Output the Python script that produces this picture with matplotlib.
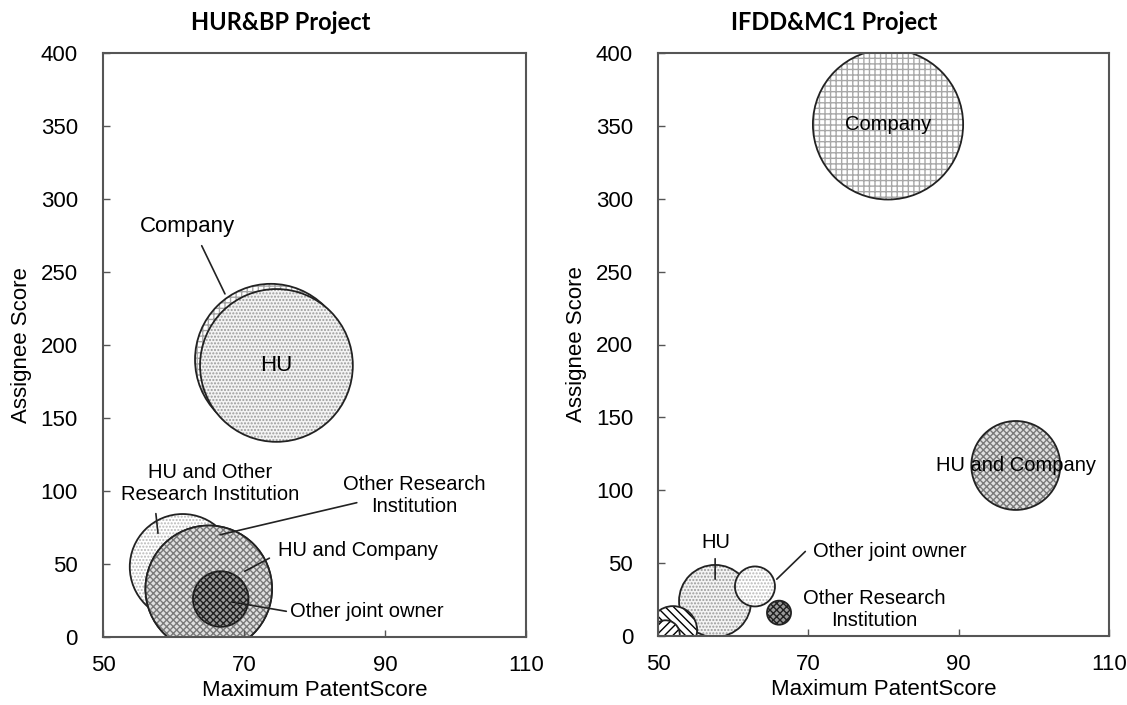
import matplotlib
matplotlib.use("Agg")
import matplotlib.pyplot as plt

plt.rcParams['font.family'] = ['Liberation Sans', 'DejaVu Sans']
plt.rcParams['hatch.linewidth'] = 1.0

# --- DATA ---
# HUR&BP project
left_names = ["Company", "HU", "HU and Other\nResearch Institution",
              "Other Research\nInstitution", "HU and Company", "Other joint owner"]
left_x = [73.8, 74.6, 61.3, 65.0, 65.0, 66.7]
left_y = [190, 186, 48, 33, 33, 26]
left_size = [11900, 12100, 5800, 8300, 8300, 1600]

# IFDD&MC1 project
right_names = ["Company", "HU and Company", "HU", "Other joint owner",
               "Other Research\nInstitution", "", ""]
right_x = [80.6, 97.6, 57.6, 62.9, 66.1, 52.0, 51.0]
right_y = [351, 117, 24, 34, 16, 4, 1]
right_size = [11700, 4100, 2700, 830, 300, 1200, 420]

# style per bubble: (facecolor, hatch, hatch colour)
light_dot = ("#f4f4f4", ".....", "#9a9a9a")
pale_dot = ("#ffffff", ".....", "#b8b8b8")
grid = ("#ffffff", "+++", "#a8a8a8")
check = ("#e0e0e0", "xxxxx", "#7a7a7a")
dark = ("#9a9a9a", "xxxxx", "#202020")
stripe_a = ("#ffffff", "\\\\\\\\", "#000000")
stripe_b = ("#ffffff", "////", "#000000")

left_style = [grid, light_dot, pale_dot, check, check, dark]
right_style = [grid, check, light_dot, pale_dot, dark, stripe_a, stripe_b]


def draw_bubbles(ax, xs, ys, sizes, styles):
    for x, y, s, (fc, hatch, hc) in zip(xs, ys, sizes, styles):
        ax.scatter([x], [y], s=s, facecolors=fc, edgecolors=hc,
                   linewidths=0, hatch=hatch)
        ax.scatter([x], [y], s=s, facecolors="none", edgecolors="#222222",
                   linewidths=1.3)


def style_axes(ax, title, title_x):
    ax.set_xlim(50, 110)
    ax.set_ylim(0, 400)
    ax.set_xticks([50, 70, 90, 110])
    ax.set_yticks(range(0, 401, 50))
    ax.tick_params(direction="in", length=5, width=1, color="#555555",
                   labelsize=16)
    ax.tick_params(axis="x", pad=13)
    ax.tick_params(axis="y", pad=18)
    for sp in ax.spines.values():
        sp.set_color("#555555")
        sp.set_linewidth(1.5)
    ax.set_xlabel("Maximum PatentScore", fontsize=16, labelpad=3)
    ax.set_ylabel("Assignee Score", fontsize=16, labelpad=6)
    ax.text(title_x, 1.052, title, transform=ax.transAxes, ha="center",
            va="center", fontsize=17, fontweight="bold",
            family=["Lato", "DejaVu Sans"])


def leader(ax, start, end):
    ax.annotate("", xy=end, xytext=start,
                arrowprops=dict(arrowstyle="-", color="#222222", lw=1.2,
                                shrinkA=0, shrinkB=0))


fig = plt.figure(figsize=(11.27, 7.05), dpi=100)
ax1 = fig.add_axes([103 / 1127, 68 / 705, 423 / 1127, 584 / 705])
ax2 = fig.add_axes([658 / 1127, 69 / 705, 451 / 1127, 583 / 705])

# --- LEFT PANEL ---
draw_bubbles(ax1, left_x, left_y, left_size, left_style)
style_axes(ax1, "HUR&BP Project", 0.42)
fs = 14.5
ax1.text(left_x[1], left_y[1], left_names[1], ha="center", va="center", fontsize=16)
ax1.text(62.0, 281, left_names[0], ha="center", va="center", fontsize=16)
leader(ax1, (64.0, 268), (67.3, 235))
ax1.text(65.2, 105, left_names[2], ha="center", va="center", fontsize=fs)
leader(ax1, (57.5, 84.5), (57.8, 71))
ax1.text(94.2, 97, left_names[3], ha="center", va="center", fontsize=fs)
leader(ax1, (86.0, 92), (66.6, 70))
ax1.text(74.8, 59.5, left_names[4], ha="left", va="center", fontsize=fs)
leader(ax1, (73.6, 54), (70.1, 45))
ax1.text(76.5, 17.6, left_names[5], ha="left", va="center", fontsize=fs)
leader(ax1, (76.0, 17.6), (68.3, 24))

# --- RIGHT PANEL ---
draw_bubbles(ax2, right_x, right_y, right_size, right_style)
style_axes(ax2, "IFDD&MC1 Project", 0.39)
ax2.text(right_x[0], right_y[0], right_names[0], ha="center", va="center", fontsize=fs)
ax2.text(right_x[1], right_y[1], right_names[1], ha="center", va="center", fontsize=fs)
ax2.text(57.7, 64, right_names[2], ha="center", va="center", fontsize=fs)
leader(ax2, (57.6, 53), (57.6, 39))
ax2.text(70.6, 58, right_names[3], ha="left", va="center", fontsize=fs)
leader(ax2, (69.6, 58), (65.8, 39))
ax2.text(78.8, 18.5, right_names[4], ha="center", va="center", fontsize=fs)

fig.savefig("out.png", dpi=100)
